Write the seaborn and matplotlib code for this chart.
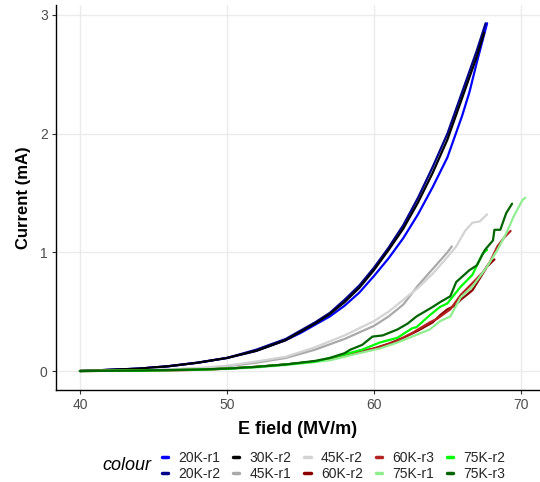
import numpy as np
import pandas as pd
import seaborn as sns
import matplotlib
matplotlib.use("Agg")
import matplotlib.pyplot as plt
from matplotlib.lines import Line2D

# ---- data ----
labels = ["20K-r1", "20K-r2", "30K-r2", "45K-r1", "45K-r2",
          "60K-r2", "60K-r3", "75K-r1", "75K-r2", "75K-r3"]
colors = ["#0000FF", "#00008B", "#000000", "#A9A9A9", "#D3D3D3",
          "#8B0000", "#B22222", "#90EE90", "#00FF00", "#006400"]

x_20k_r1 = [40.0, 42, 44, 46, 48, 50, 52, 54, 55, 56, 57, 58, 59, 60, 61, 62, 63, 64, 65, 66, 66.5, 67, 67.7]
y_20k_r1 = [0.0, 0.01, 0.02, 0.04, 0.07, 0.11, 0.17, 0.26, 0.32, 0.39, 0.46, 0.55, 0.66, 0.80, 0.95, 1.12, 1.32, 1.55, 1.80, 2.15, 2.35, 2.60, 2.93]

x_20k_r2 = [40.0, 42, 44, 46, 48, 50, 52, 54, 55, 56, 57, 58, 59, 60, 61, 62, 63, 64, 65, 66, 67, 67.6]
y_20k_r2 = [0.0, 0.01, 0.02, 0.04, 0.07, 0.11, 0.18, 0.27, 0.34, 0.41, 0.49, 0.60, 0.72, 0.87, 1.04, 1.23, 1.46, 1.72, 2.00, 2.35, 2.70, 2.93]

x_30k_r2 = [40.0, 42, 44, 46, 48, 50, 52, 54, 55, 56, 57, 58, 59, 60, 61, 62, 63, 64, 65, 66, 67, 67.5]
y_30k_r2 = [0.0, 0.01, 0.02, 0.04, 0.07, 0.11, 0.17, 0.26, 0.33, 0.40, 0.48, 0.58, 0.70, 0.85, 1.02, 1.20, 1.42, 1.67, 1.95, 2.30, 2.65, 2.85]

x_45k_r1 = [40.0, 44, 48, 50, 52, 54, 56, 58, 60, 61, 62, 63, 64, 65, 65.3]
y_45k_r1 = [0.0, 0.005, 0.02, 0.04, 0.07, 0.11, 0.18, 0.27, 0.38, 0.46, 0.56, 0.72, 0.86, 1.00, 1.05]

x_45k_r2 = [40.0, 44, 48, 50, 52, 54, 56, 58, 60, 61, 62, 63, 64, 65, 65.6, 66.2, 66.7, 67.2, 67.7]
y_45k_r2 = [0.0, 0.005, 0.025, 0.045, 0.08, 0.12, 0.20, 0.30, 0.42, 0.50, 0.60, 0.70, 0.82, 0.96, 1.05, 1.18, 1.25, 1.26, 1.32]

x_60k_r2 = [40.0, 44, 48, 50, 52, 54, 56, 57, 58, 59, 60, 61, 62, 63, 64, 64.5, 65, 65.5, 65.9, 66.3, 66.7, 67.2, 67.7, 68.2]
y_60k_r2 = [0.0, 0.003, 0.01, 0.02, 0.035, 0.055, 0.08, 0.10, 0.13, 0.16, 0.19, 0.23, 0.28, 0.34, 0.41, 0.47, 0.52, 0.55, 0.60, 0.64, 0.68, 0.78, 0.88, 0.94]

x_60k_r3 = [40.0, 44, 48, 50, 52, 54, 56, 57, 58, 59, 60.4, 61.5, 62.6, 63.8, 64.3, 65.2, 65.9, 66.7, 67.4, 67.9, 68.4, 68.9, 69.3]
y_60k_r3 = [0.0, 0.003, 0.01, 0.02, 0.035, 0.055, 0.08, 0.10, 0.13, 0.16, 0.20, 0.25, 0.32, 0.41, 0.44, 0.52, 0.64, 0.74, 0.83, 0.92, 1.05, 1.13, 1.18]

x_75k_r1 = [40.0, 44, 48, 50, 52, 54, 56, 57, 58, 59, 60.4, 61.6, 62.6, 63.8, 64.5, 65.2, 65.9, 66.7, 67.7, 68.4, 69.0, 69.5, 70.1, 70.3]
y_75k_r1 = [0.0, 0.003, 0.01, 0.018, 0.03, 0.05, 0.075, 0.09, 0.12, 0.15, 0.19, 0.24, 0.29, 0.35, 0.42, 0.46, 0.62, 0.71, 0.88, 1.02, 1.16, 1.30, 1.44, 1.46]

x_75k_r2 = [40.0, 44, 48, 50, 52, 54, 56, 57, 58, 59.2, 60.4, 61.6, 62.6, 62.9, 63.8, 64.5, 65.0, 65.9, 66.7, 67.4, 67.7]
y_75k_r2 = [0.0, 0.003, 0.012, 0.02, 0.035, 0.055, 0.08, 0.11, 0.14, 0.18, 0.24, 0.28, 0.36, 0.37, 0.47, 0.54, 0.57, 0.71, 0.81, 0.99, 1.02]

x_75k_r3 = [40.0, 44, 48, 50, 52, 54, 56, 57, 58, 58.4, 59.2, 59.9, 60.6, 61.6, 62.3, 62.9, 64.0, 64.5, 65.2, 65.6, 66.5, 67.0, 67.55, 68.1, 68.2, 68.6, 69.0, 69.4]
y_75k_r3 = [0.0, 0.004, 0.012, 0.02, 0.035, 0.055, 0.085, 0.11, 0.15, 0.18, 0.22, 0.29, 0.30, 0.35, 0.40, 0.46, 0.54, 0.58, 0.63, 0.75, 0.85, 0.89, 1.02, 1.10, 1.19, 1.19, 1.33, 1.41]

xs = [x_20k_r1, x_20k_r2, x_30k_r2, x_45k_r1, x_45k_r2, x_60k_r2, x_60k_r3, x_75k_r1, x_75k_r2, x_75k_r3]
ys = [y_20k_r1, y_20k_r2, y_30k_r2, y_45k_r1, y_45k_r2, y_60k_r2, y_60k_r3, y_75k_r1, y_75k_r2, y_75k_r3]

frames = [pd.DataFrame({"E": x, "I": y, "colour": lab}) for lab, x, y in zip(labels, xs, ys)]
df = pd.concat(frames, ignore_index=True)
palette = dict(zip(labels, colors))

# ---- style ----
sns.set_theme(style="white")
plt.rcParams["font.family"] = ["Liberation Sans", "DejaVu Sans"]

fig = plt.figure(figsize=(5.4, 4.82), dpi=100)
ax = fig.add_axes([56 / 540, 1 - 390 / 482, 484 / 540, 385 / 482])

sns.lineplot(data=df, x="E", y="I", hue="colour", palette=palette,
             hue_order=labels, linewidth=1.6, legend=False, ax=ax,
             estimator=None, sort=False)

ax.set_xlim(38.37, 71.3)
ax.set_ylim(-0.16, 3.084)
ax.set_xticks([40, 50, 60, 70])
ax.set_yticks([0, 1, 2, 3])
ax.grid(True, color="#EBEBEB", linewidth=1.0)
ax.set_axisbelow(True)
for s in ["top", "right"]:
    ax.spines[s].set_visible(False)
for s in ["left", "bottom"]:
    ax.spines[s].set_color("black")
    ax.spines[s].set_linewidth(1.0)
ax.tick_params(axis="both", which="major", length=3, width=0.8, color="#333333",
               labelcolor="#4D4D4D", labelsize=10, pad=3, bottom=True, left=True)

ax.set_xlabel("E field (MV/m)", fontsize=13, fontweight="bold", color="black", labelpad=6)
ax.set_ylabel("Current (mA)", fontsize=12, fontweight="bold", color="black", labelpad=6)

handles = [Line2D([0], [0], color=c, linewidth=2.5) for c in colors]
leg = fig.legend(handles, labels, ncol=5, loc="center left",
                 bbox_to_anchor=(155 / 540, 1 - 466 / 482), frameon=False,
                 fontsize=10, handlelength=0.45, handletextpad=0.75,
                 columnspacing=0.9, labelspacing=0.1, borderpad=0.0)
fig.text(102 / 540, 1 - 466 / 482, "colour", fontsize=13, fontstyle="italic",
         ha="left", va="center", color="black")

fig.savefig("out.png", dpi=100, facecolor="white")
